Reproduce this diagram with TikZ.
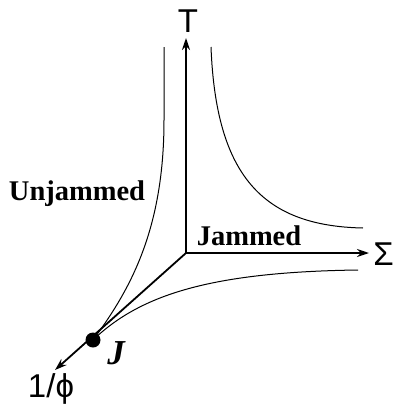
\documentclass[tikz,border=0pt]{standalone}
\usepackage{fontspec}
\setmainfont{Liberation Serif}
\setsansfont{Liberation Sans}
\usepackage{tikz}
\usetikzlibrary{positioning,arrows.meta}

\tikzset{
  axis/.style={line width=1.8pt,-{Stealth[length=12pt,width=8pt]}},
  border/.style={line width=1pt},
  axislabel/.style={font=\sffamily\fontsize{33}{34}\selectfont,inner sep=0pt},
  phaselabel/.style={font=\bfseries\fontsize{28.5}{30}\selectfont,inner sep=0pt}
}

\begin{document}
\begin{tikzpicture}[x=1pt,y=-1pt]
			\useasboundingbox (0,0) rectangle (394,407);

			\coordinate (O) at (186,253);
			\coordinate (Ttip) at (186,38);
			\coordinate (Stip) at (369,253);
			\coordinate (Ptip) at (55,370);
			\node[circle,fill=black,inner sep=0pt,minimum size=15pt] (J) at (93,340) {};

			% axes
			\draw[axis] (O) -- (Ttip);
			\draw[axis] (O) -- (Stip);
			\draw[axis] (O) -- (Ptip);

			\node[axislabel] (T) at (188,21) {T};
			\node[axislabel,anchor=east] (S) at (394,254) {Σ};
			\node[axislabel,anchor=south,inner sep=1pt] (phi) at (51,406) {1/ϕ};

			% phase boundaries
			\coordinate (L1) at (164,47);
			\coordinate (R1) at (211,47);
			\coordinate (R2) at (363,228);
			\coordinate (B2) at (358,270);
			\draw[border] (L1) -- (164,120) .. controls (164,230) and (130,290) .. (J.center);
			\draw[border] (R1) .. controls (216,175) and (262,226) .. (R2);
			\draw[border] (J.center) .. controls (140,295) and (210,272) .. (B2);

			\node[phaselabel] (unj) at (77,194) {Unjammed};
			\node[phaselabel] (jam) at (249,236) {Jammed};
			\node[font=\bfseries\itshape\fontsize{35}{36}\selectfont,inner sep=0pt] (Jlab) at (116,353) {J};

		\end{tikzpicture}
\end{document}
